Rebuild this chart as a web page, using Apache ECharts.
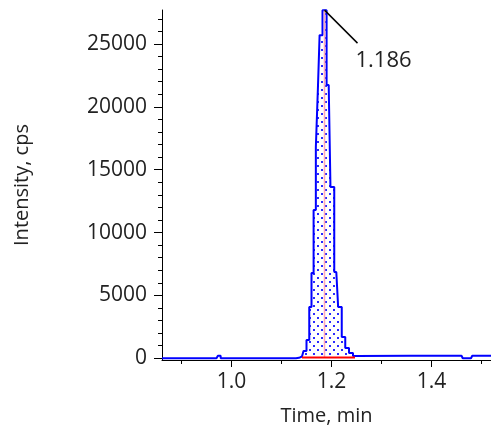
<!DOCTYPE html>
<html>
<head>
<meta charset="utf-8">
<script src="https://cdn.jsdelivr.net/npm/echarts@6/dist/echarts.min.js"></script>
<style>
  html, body { margin: 0; padding: 0; background: #ffffff; }
  #chart { width: 491px; height: 433px; }
</style>
</head>
<body>
<div id="chart"></div>
<script>
// Extracted ion chromatogram: retention time (min) and intensity (cps)
const times = [0.861, 0.970, 0.9756, 0.981, 1.129, 1.135, 1.141, 1.147, 1.153, 1.158,
               1.162, 1.1664, 1.171, 1.1744, 1.178, 1.186, 1.1944, 1.2014, 1.2096, 1.217,
               1.224, 1.231, 1.239, 1.247, 1.255, 1.460, 1.465, 1.479, 1.484, 1.519];
const intensities = [0, 0, 200, 0, 0, 40, 140, 580, 1450, 4080,
                     6780, 11790, 16800, 21330, 25700, 27690, 21730, 13620, 6860, 4080,
                     1690, 820, 420, 180, 200, 200, 0, 0, 200, 200];

// Integrated peak
const apexTime = 1.186;
const apexIntensity = 27690;
const peakStart = 1.141;
const peakEnd = 1.247;
const baselineLevel = 60;

// Axis ranges and ticks
const xRange = [0.861, 1.519];
const yRange = [-135, 27700];
const xMajorTicks = [1.0, 1.2, 1.4];
const xMinorTicks = [0.9, 1.1, 1.3, 1.5];
const yMajorTicks = [0, 5000, 10000, 15000, 20000, 25000];
const yMinorTicks = [1000, 2000, 3000, 4000, 6000, 7000, 8000, 9000, 11000, 12000, 13000, 14000,
                     16000, 17000, 18000, 19000, 21000, 22000, 23000, 24000, 26000, 27000];

const FONT = '"Open Sans", "Noto Sans", sans-serif';
const TEXT = '#222222';

const trace = times.map((t, i) => [t, intensities[i]]);
const peakPoints = trace.filter(p => p[0] >= peakStart && p[0] <= peakEnd);

// Dotted hatch used to shade the integrated area
function dotPattern() {
  const c = document.createElement('canvas');
  c.width = 8; c.height = 8;
  const g = c.getContext('2d');
  g.fillStyle = '#ffffff';
  g.fillRect(0, 0, 8, 8);
  g.fillStyle = '#2a2aff';
  g.fillRect(1, 1, 2, 2);
  g.fillRect(5, 5, 2, 2);
  return c;
}

const chart = echarts.init(document.getElementById('chart'), null, { renderer: 'canvas' });

const gridBox = { left: 162, right: 0, top: 10, bottom: 73 };

chart.setOption({
  animation: false,
  backgroundColor: '#ffffff',
  grid: [
    Object.assign({ containLabel: false }, gridBox),
    Object.assign({ containLabel: false }, gridBox)
  ],
  xAxis: [
    {
      gridIndex: 0, type: 'value', min: xRange[0], max: xRange[1],
      name: 'Time, min', nameLocation: 'middle', nameGap: 46,
      nameTextStyle: { fontFamily: FONT, fontSize: 20, color: TEXT },
      axisLine: { show: true, onZero: false, lineStyle: { color: '#000', width: 1 } },
      axisTick: { show: true, customValues: xMajorTicks, length: 7, lineStyle: { color: '#000' } },
      axisLabel: { customValues: xMajorTicks, margin: 12, fontFamily: FONT, fontSize: 21, color: TEXT,
                   formatter: v => v.toFixed(1) },
      splitLine: { show: false }
    },
    {
      gridIndex: 1, type: 'value', min: xRange[0], max: xRange[1],
      axisLine: { show: false, onZero: false },
      axisTick: { show: true, customValues: xMinorTicks, length: 4, lineStyle: { color: '#000' } },
      axisLabel: { show: false },
      splitLine: { show: false }
    }
  ],
  yAxis: [
    {
      gridIndex: 0, type: 'value', min: yRange[0], max: yRange[1],
      name: 'Intensity, cps', nameLocation: 'middle', nameGap: 130,
      nameTextStyle: { fontFamily: FONT, fontSize: 20, color: TEXT },
      axisLine: { show: true, onZero: false, lineStyle: { color: '#000', width: 1 } },
      axisTick: { show: true, customValues: yMajorTicks, length: 8, lineStyle: { color: '#000' } },
      axisLabel: { customValues: yMajorTicks, margin: 15, fontFamily: FONT, fontSize: 21, color: TEXT,
                   formatter: v => String(v) },
      splitLine: { show: false }
    },
    {
      gridIndex: 1, type: 'value', min: yRange[0], max: yRange[1],
      axisLine: { show: false, onZero: false },
      axisTick: { show: true, customValues: yMinorTicks, length: 4, lineStyle: { color: '#000' } },
      axisLabel: { show: false },
      splitLine: { show: false }
    }
  ],
  series: [
    {
      name: 'area', type: 'line', xAxisIndex: 0, yAxisIndex: 0,
      data: peakPoints, step: 'middle', symbol: 'none', silent: true,
      lineStyle: { width: 0 },
      areaStyle: { origin: baselineLevel, opacity: 1, color: { image: dotPattern(), repeat: 'repeat' } },
      z: 1
    },
    {
      name: 'trace', type: 'line', xAxisIndex: 0, yAxisIndex: 0,
      data: trace, step: 'middle', symbol: 'none', silent: true,
      lineStyle: { color: '#0000ff', width: 2 },
      z: 2
    },
    {
      name: 'apex', type: 'line', xAxisIndex: 0, yAxisIndex: 0,
      data: [[apexTime, baselineLevel], [apexTime, apexIntensity]],
      symbol: 'none', silent: true,
      lineStyle: { color: '#ffa8b8', width: 1.5 },
      z: 3
    },
    {
      name: 'baseline', type: 'line', xAxisIndex: 0, yAxisIndex: 0,
      data: [[peakStart, baselineLevel], [peakEnd, baselineLevel]],
      symbol: 'none', silent: true,
      lineStyle: { color: '#ff0000', width: 2 },
      z: 4
    }
  ]
});

// Retention-time callout attached to the apex
const apexPx = chart.convertToPixel({ gridIndex: 0 }, [apexTime, apexIntensity]);
chart.setOption({
  graphic: [
    {
      type: 'line', silent: true, z: 10,
      shape: { x1: apexPx[0], y1: apexPx[1], x2: apexPx[0] + 33, y2: apexPx[1] + 33 },
      style: { stroke: '#000000', lineWidth: 1.5 }
    },
    {
      type: 'text', silent: true, z: 10,
      x: apexPx[0] + 31, y: apexPx[1] + 40,
      style: { text: apexTime.toFixed(3), font: '22px ' + FONT, fill: TEXT, textVerticalAlign: 'top' }
    }
  ]
});
</script>
</body>
</html>
